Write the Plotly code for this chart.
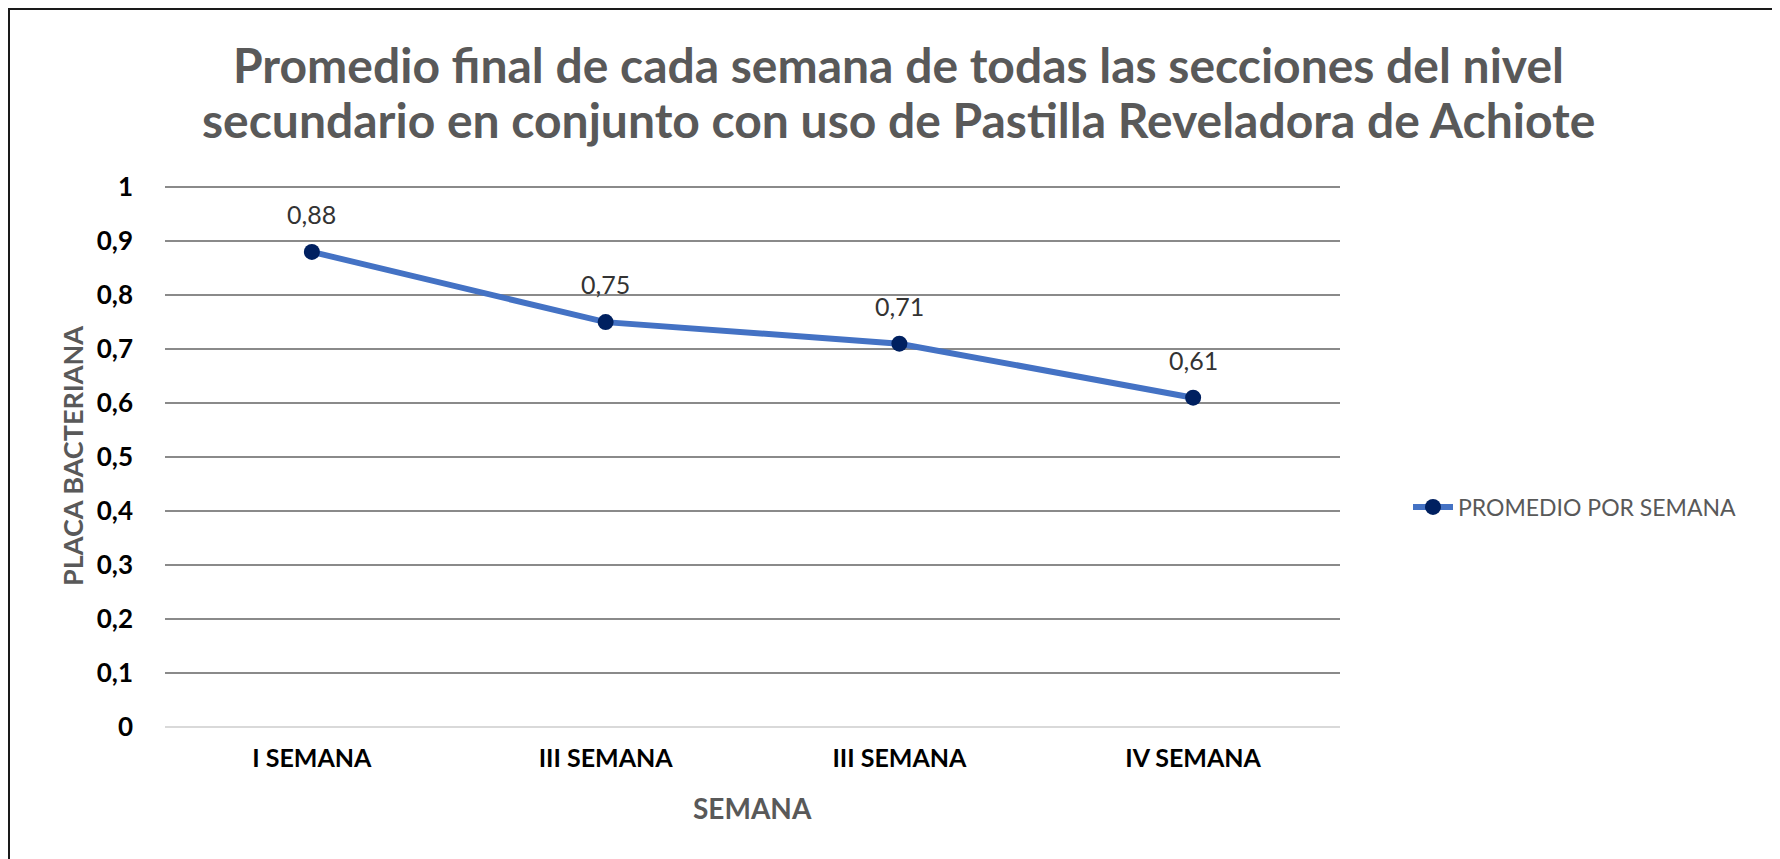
import plotly.graph_objects as go

categories = ["I SEMANA", "III SEMANA", "III SEMANA", "IV SEMANA"]
values = [0.88, 0.75, 0.71, 0.61]
y_ticks = [0, 0.1, 0.2, 0.3, 0.4, 0.5, 0.6, 0.7, 0.8, 0.9, 1]
y_tick_labels = ["0", "0,1", "0,2", "0,3", "0,4", "0,5", "0,6", "0,7", "0,8", "0,9", "1"]
series_name = "PROMEDIO POR SEMANA"
title_lines = ["Promedio final de cada semana de todas las secciones del nivel",
               "secundario en conjunto con uso de Pastilla Reveladora de Achiote"]
x_title = "SEMANA"
y_title = "PLACA BACTERIANA"

OFF = 8  # page body margin
W, H = 1780 - OFF, 859 - OFF
L, R, T, B = 165 - OFF, 1340 - OFF, 185 - OFF, 727 - OFF
pw, ph = R - L, B - T

def px(x):
    return (x - OFF - L) / pw

def py(y):
    return (B - (y - OFF)) / ph

FONT = "Lato"
xs = list(range(len(categories)))

fig = go.Figure()
fig.add_trace(go.Scatter(
    x=xs, y=values, mode="lines+markers", name=series_name,
    line=dict(color="#4472C4", width=6),
    marker=dict(color="#002060", size=16),
))

annotations = []
for xi, v in zip(xs, values):
    annotations.append(dict(
        x=xi, y=v, xref="x", yref="y", text=f"{v:.2f}".replace(".", ","),
        showarrow=False, yshift=38, yanchor="middle",
        font=dict(family=FONT, size=25, color="#333333"),
    ))
for i, line in enumerate(title_lines):
    annotations.append(dict(
        x=px(898), y=py(65 + 54 * i), xref="paper", yref="paper", text=f"<b>{line}</b>",
        showarrow=False, xanchor="center", yanchor="middle",
        font=dict(family=FONT, size=48, color="#595959"),
    ))
annotations.append(dict(
    x=px(752), y=py(808), xref="paper", yref="paper", text=f"<b>{x_title}</b>",
    showarrow=False, xanchor="center", yanchor="middle",
    font=dict(family=FONT, size=28, color="#595959"),
))
annotations.append(dict(
    x=px(72), y=py(456), xref="paper", yref="paper", text=f"<b>{y_title}</b>",
    showarrow=False, xanchor="center", yanchor="middle", textangle=-90,
    font=dict(family=FONT, size=27, color="#595959"),
))

fig.update_layout(
    width=W, height=H,
    margin=dict(l=L, r=W - R, t=T, b=H - B, pad=0),
    paper_bgcolor="white", plot_bgcolor="white",
    showlegend=True,
    legend=dict(x=px(1408), y=py(507), xanchor="left", yanchor="middle",
                font=dict(family=FONT, size=23, color="#595959"),
                bgcolor="rgba(0,0,0,0)", itemwidth=40),
    annotations=annotations,
    shapes=[dict(type="rect", xref="paper", yref="paper",
                 x0=px(9), x1=px(1800), y0=py(880), y1=py(OFF + 1),
                 line=dict(color="#1a1a1a", width=2), fillcolor="rgba(0,0,0,0)")],
)
fig.update_xaxes(
    range=[-0.5, len(categories) - 0.5], tickvals=xs, ticktext=[f"<b>{c}</b>" for c in categories],
    showgrid=False, showline=False, zeroline=False, ticks="",
    tickfont=dict(family=FONT, size=25, color="#000000"), ticklabelstandoff=14,
)
fig.update_yaxes(
    range=[0, 1.004], tickvals=y_ticks, ticktext=[f"<b>{t}</b>" for t in y_tick_labels],
    showgrid=True, gridcolor="#8a8a8a", gridwidth=2,
    zeroline=True, zerolinecolor="#d9d9d9", zerolinewidth=2, showline=False, ticks="",
    tickfont=dict(family=FONT, size=26, color="#000000"), ticklabelstandoff=31,
)

fig.write_html("out.html")
